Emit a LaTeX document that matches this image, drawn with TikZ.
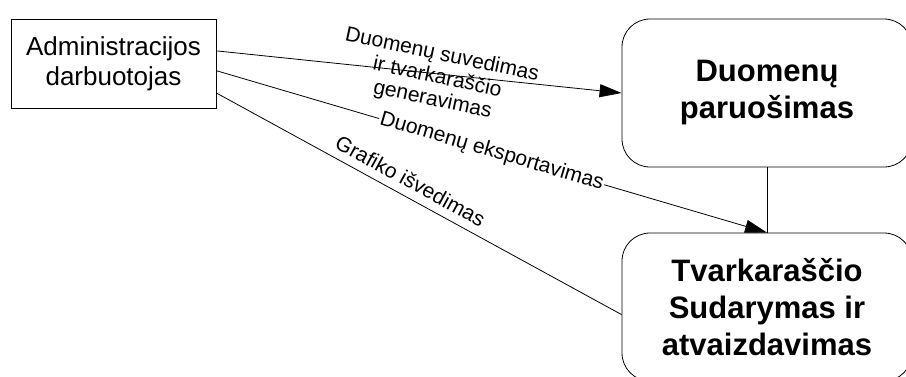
\documentclass[tikz,border=0pt]{standalone}
\usepackage{fontspec}
\setmainfont{Liberation Sans}
\usetikzlibrary{arrows.meta}
\begin{document}
\begin{tikzpicture}[x=1pt,y=-1pt,
  line width=0.8pt,
  actor/.style={draw, rectangle, inner sep=0pt, minimum width=205pt, minimum height=89pt,
    align=center, font=\fontsize{26}{30}\selectfont},
  process/.style={draw, rectangle, rounded corners=28pt, inner sep=0pt,
    minimum width=290pt, minimum height=148pt, align=center,
    font=\fontsize{31}{37}\selectfont\bfseries},
  flow/.style={-{Triangle[length=22pt,width=13pt]}},
  flowlabel/.style={font=\fontsize{21}{23}\selectfont, align=center}]
  \useasboundingbox (0,0) rectangle (906,376);

  \node[actor] (adm) at (113.5,63.5) {Administracijos\\darbuotojas};
  \node[process] (prep) at (767,93) {Duomenų\\paruošimas};
  \node[process] (sched) at (767,307) {Tvarkaraščio\\Sudarymas ir\\atvaizdavimas};

  \draw[flow] (adm.7.5) -- (prep.west)
    node[flowlabel, pos=0.545, yshift=-4pt, rotate=-12] {Duomenų suvedimas\\ir tvarkaraščio\\generavimas};
  \draw[flow] (adm.-4.2) -- (sched.north)
    node[flowlabel, midway, sloped, fill=white, inner sep=1pt] {Duomenų eksportavimas};
  \draw (adm.-16.6) -- (sched.183)
    node[flowlabel, pos=0.46, sloped, above=7pt, inner sep=1pt] {Grafiko išvedimas};
  \draw (prep.south) -- (sched.north);
\end{tikzpicture}
\end{document}
